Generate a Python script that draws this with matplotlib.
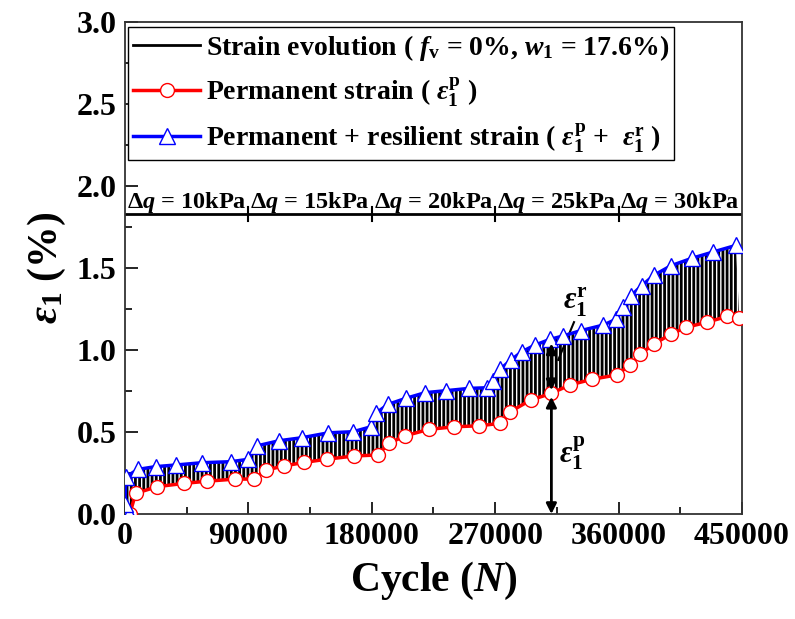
import numpy as np
import matplotlib
matplotlib.use("Agg")
import matplotlib.pyplot as plt
from matplotlib.lines import Line2D

plt.rcParams['font.family'] = ['Liberation Serif', 'DejaVu Serif']
plt.rcParams['font.weight'] = 'bold'
plt.rcParams['mathtext.fontset'] = 'custom'
plt.rcParams['mathtext.rm'] = 'Liberation Serif:bold'
plt.rcParams['mathtext.it'] = 'Liberation Serif:italic:bold'
plt.rcParams['mathtext.bf'] = 'Liberation Serif:bold'
plt.rcParams['hatch.linewidth'] = 2.0

# ---- data ----
perm_x = [3500, 7800, 23600, 43300, 59800, 80200, 94300, 102600, 116000, 130800,
          147000, 167300, 184300, 192500, 204400, 221500, 240200, 258400, 273700,
          281000, 295900, 310700, 324500, 340300, 358600, 368300, 375600, 385800,
          398000, 409100, 424200, 439300, 448000]
perm_y = [0.0, 0.126, 0.167, 0.187, 0.200, 0.213, 0.213, 0.268, 0.293, 0.315,
          0.334, 0.354, 0.360, 0.431, 0.477, 0.516, 0.532, 0.538, 0.553,
          0.624, 0.695, 0.735, 0.787, 0.821, 0.848, 0.909, 0.974, 1.037,
          1.096, 1.138, 1.169, 1.205, 1.195]

tot_x = [3000, 0, 500, 9300, 22400, 37200, 56400, 77100, 89500, 96000, 112500,
         128900, 148300, 166500, 179400, 182800, 192000, 204700, 219000, 234100,
         250900, 264200, 268200, 273500, 281500, 289500, 299000, 309900, 319200,
         332300, 348800, 358100, 363400, 368800, 376800, 386000, 398200, 413300,
         429000, 445600]
tot_y = [0.0, 0.06, 0.225, 0.272, 0.289, 0.299, 0.313, 0.319, 0.333, 0.415, 0.447,
         0.465, 0.495, 0.502, 0.532, 0.614, 0.669, 0.705, 0.740, 0.752,
         0.766, 0.770, 0.811, 0.882, 0.939, 0.990, 1.030, 1.065, 1.085,
         1.118, 1.152, 1.187, 1.264, 1.329, 1.392, 1.457, 1.514, 1.559,
         1.598, 1.638]

stage_edges = [0, 90000, 180000, 270000, 360000, 450000]
stage_labels = ['10kPa', '15kPa', '20kPa', '25kPa', '30kPa']
stage_level = 1.83

x_ticks = [0, 90000, 180000, 270000, 360000, 450000]
y_ticks = [0.0, 0.5, 1.0, 1.5, 2.0, 2.5, 3.0]

arrow_x = 311000

# ---- figure ----
fig = plt.figure(figsize=(7.95, 6.19), dpi=100)
ax = fig.add_axes([0.1572, 0.1696, 0.7761, 0.7948])

# strain evolution (dense cycles) as vertical hatch between envelopes
poly_x = np.concatenate([perm_x, tot_x[::-1]])
poly_y = np.concatenate([perm_y, tot_y[::-1]])
ax.fill(poly_x, poly_y, facecolor='white', edgecolor='black', hatch='||||',
        linewidth=0, zorder=1)

ax.plot(perm_x, perm_y, color='red', lw=2.5, marker='o', markersize=10,
        markerfacecolor='white', markeredgecolor='red', markeredgewidth=1.0,
        zorder=3)
ax.plot(tot_x, tot_y, color='blue', lw=2.5, marker='^', markersize=11,
        markerfacecolor='white', markeredgecolor='blue', markeredgewidth=1.0,
        zorder=3)

# stage line
ax.plot([stage_edges[0], stage_edges[-1]], [stage_level, stage_level],
        color='black', lw=2, zorder=2)
for xe in stage_edges[1:-1]:
    ax.plot([xe, xe], [stage_level - 0.045, stage_level + 0.045], color='black', lw=1.5)
for i, lab in enumerate(stage_labels):
    xc = (stage_edges[i] + stage_edges[i + 1]) / 2
    ax.text(xc, stage_level + 0.035, 'Δ$q$ = ' + lab, ha='center', va='baseline',
            fontsize=17.5, fontweight='bold')

# annotations
ax.annotate('', xy=(arrow_x, 1.04), xytext=(arrow_x, 0.755),
            arrowprops=dict(arrowstyle='<|-|>', color='black', lw=2, mutation_scale=15,
                            shrinkA=0, shrinkB=0))
ax.annotate('', xy=(arrow_x, 0.715), xytext=(arrow_x, 0.0),
            arrowprops=dict(arrowstyle='<|-|>', color='black', lw=2, mutation_scale=15,
                            shrinkA=0, shrinkB=0))
ax.plot([327500, 316000], [1.17, 0.94], color='black', lw=1.5)
ax.text(328500, 1.29, r'$\varepsilon_1^{\mathrm{r}}$', fontsize=22, ha='center', va='center')
ax.text(326000, 0.37, r'$\varepsilon_1^{\mathrm{p}}$', fontsize=22, ha='center', va='center')

ax.set_xlim(0, 450000)
ax.set_ylim(0, 3.0)
ax.set_xticks(x_ticks)
ax.set_xticklabels([str(v) for v in x_ticks])
ax.set_yticks(y_ticks)
ax.set_yticklabels(['%.1f' % v for v in y_ticks])
ax.set_xticks(np.arange(45000, 450000, 90000), minor=True)
ax.set_yticks(np.arange(0.25, 3.0, 0.5), minor=True)
ax.tick_params(axis='both', which='major', direction='in', length=9, width=1.2,
               labelsize=23, pad=6)
ax.tick_params(axis='both', which='minor', direction='in', length=5, width=1.2)
for lbl in ax.get_xticklabels() + ax.get_yticklabels():
    lbl.set_fontweight('bold')
for s in ax.spines.values():
    s.set_linewidth(1.3)
    s.set_color('#333333')

ax.set_xlabel('Cycle ($N$)', fontsize=30, fontweight='bold', labelpad=6)
ax.set_ylabel(r'$\varepsilon_1$ (%)', fontsize=30, fontweight='bold', labelpad=6)

handles = [
    Line2D([], [], color='black', lw=2),
    Line2D([], [], color='red', lw=2.5, marker='o', markersize=10,
           markerfacecolor='white', markeredgecolor='red'),
    Line2D([], [], color='blue', lw=2.5, marker='^', markersize=11,
           markerfacecolor='white', markeredgecolor='blue'),
]
labels = [
    r'Strain evolution ( $f_{\mathrm{v}}$ = 0%, $w_{1}$ = 17.6%)',
    r'Permanent strain ( $\varepsilon_1^{\mathrm{p}}$ )',
    r'Permanent + resilient strain ( $\varepsilon_1^{\mathrm{p}}$ +  $\varepsilon_1^{\mathrm{r}}$ )',
]
leg = ax.legend(handles, labels, loc='upper left', bbox_to_anchor=(0.0, 0.995),
                frameon=True, fancybox=False, edgecolor='black',
                framealpha=1, borderpad=0.2, labelspacing=0.45, handlelength=2.4,
                handletextpad=0.2, borderaxespad=0.1, prop={'weight': 'bold', 'size': 20})
leg.get_frame().set_linewidth(1.0)

fig.savefig('out.png', dpi=100)
